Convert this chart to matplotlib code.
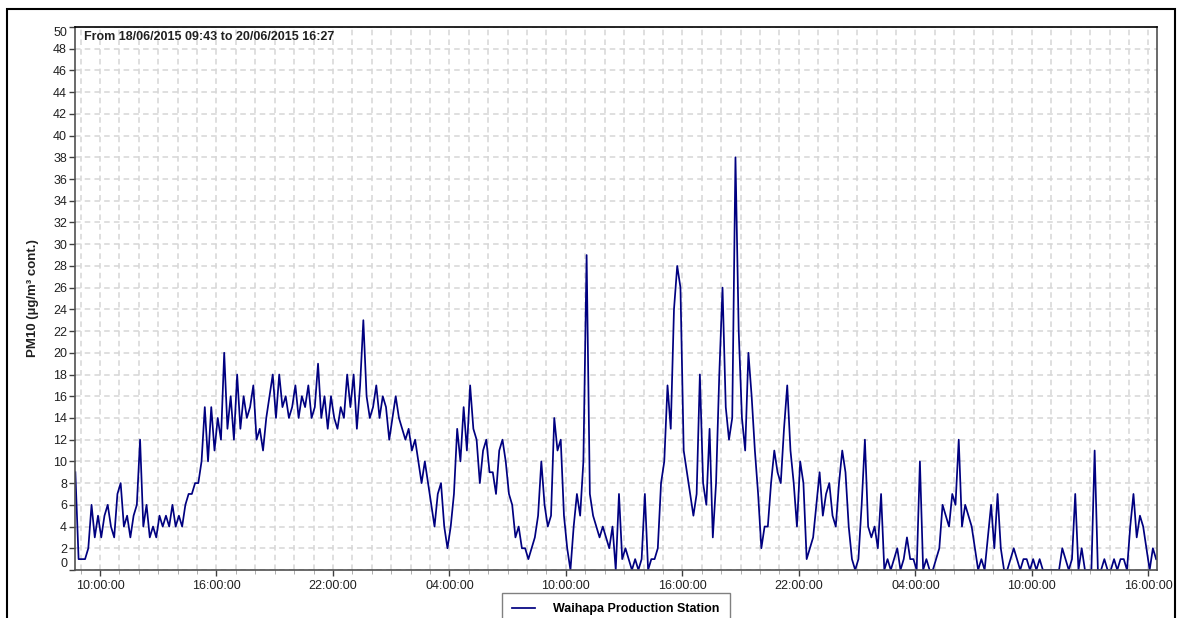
import matplotlib
matplotlib.use('Agg')
import matplotlib.pyplot as plt
import matplotlib.dates as mdates
from matplotlib.patches import Rectangle
import pandas as pd

plt.rcParams['font.family'] = ['Liberation Sans', 'DejaVu Sans']
plt.rcParams['lines.scale_dashes'] = False

title = 'From 18/06/2015 09:43 to 20/06/2015 16:27'
station = 'Waihapa Production Station'
y_label = 'PM10 (µg/m³ cont.)'

# 10-minute PM10 readings, split by calendar day
pm10_day1 = [9, 1, 1, 1, 2, 6, 3, 5, 3, 5, 6, 4, 3, 7, 8, 4, 5, 3, 5, 6,
             12, 4, 6, 3, 4, 3, 5, 4, 5, 4, 6, 4, 5, 4, 6, 7, 7, 8, 8, 10,
             15, 10, 15, 11, 14, 12, 20, 13, 16, 12, 18, 13, 16, 14, 15, 17, 12, 13, 11, 14,
             16, 18, 14, 18, 15, 16, 14, 15, 17, 14, 16, 15, 17, 14, 15, 19, 14, 16, 13, 16,
             14, 13, 15, 14, 18, 15, 18, 13, 17, 23, 16, 14]
pm10_day2 = [15, 17, 14, 16, 15, 12, 14, 16, 14, 13, 12, 13, 11, 12, 10, 8, 10, 8, 6, 4,
             7, 8, 4, 2, 4, 7, 13, 10, 15, 11, 17, 13, 12, 8, 11, 12, 9, 9, 7, 11,
             12, 10, 7, 6, 3, 4, 2, 2, 1, 2, 3, 5, 10, 6, 4, 5, 14, 11, 12, 5,
             2, 0, 4, 7, 5, 10, 29, 7, 5, 4, 3, 4, 3, 2, 4, 0, 7, 1, 2, 1,
             0, 1, 0, 1, 7, 0, 1, 1, 2, 8, 10, 17, 13, 24, 28, 26, 11, 9, 7, 5,
             7, 18, 8, 6, 13, 3, 8, 18, 26, 15, 12, 14, 38, 22, 14, 11, 20, 16, 11, 7,
             2, 4, 4, 8, 11, 9, 8, 13, 17, 11, 8, 4, 10, 8, 1, 2, 3, 6, 9, 5,
             7, 8, 5, 4]
pm10_day3 = [8, 11, 9, 4, 1, 0, 1, 6, 12, 4, 3, 4, 2, 7, 0, 1, 0, 1, 2, 0,
             1, 3, 1, 1, 0, 10, 0, 1, 0, 0, 1, 2, 6, 5, 4, 7, 6, 12, 4, 6,
             5, 4, 2, 0, 1, 0, 3, 6, 2, 7, 2, 0, 0, 1, 2, 1, 0, 1, 1, 0,
             1, 0, 1, 0, 0, 0, 0, 0, 0, 2, 1, 0, 1, 7, 0, 2, 0, 0, 0, 11,
             0, 0, 1, 0, 0, 1, 0, 1, 1, 0, 4, 7, 3, 5, 4, 2, 0, 2, 1]

pm10 = pm10_day1 + pm10_day2 + pm10_day3
times = pd.date_range('2015-06-18 08:44', periods=len(pm10), freq='10min')
t_end = pd.Timestamp('2015-06-20 16:27')

y_ticks = list(range(0, 51, 2))

fig = plt.figure(figsize=(11.83, 6.18), dpi=100)
ax = fig.add_axes([0.0637, 0.0777, 0.9144, 0.8786])

ax.plot(times, pm10, color='#000080', linewidth=1.25, label=station)

ax.set_xlim(times[0], t_end)
ax.set_ylim(0, 50)
ax.set_yticks(y_ticks)

ax.xaxis.set_major_locator(mdates.HourLocator(byhour=[4, 10, 16, 22]))
ax.xaxis.set_minor_locator(mdates.HourLocator())
ax.xaxis.set_major_formatter(mdates.DateFormatter('%H:%M:%S'))

grid_kw = dict(color='#d6d6d6', linewidth=1.1, linestyle=(0, (4, 3)))
ax.grid(True, which='both', axis='x', **grid_kw)
ax.grid(True, which='major', axis='y', **grid_kw)
ax.set_axisbelow(True)

ax.tick_params(axis='both', which='major', labelsize=9, colors='#404040',
               labelcolor='#202020', length=4, width=1)
ax.tick_params(axis='x', which='minor', length=3, color='#a0a0a0')
ax.tick_params(axis='x', which='major', pad=3)
ax.tick_params(axis='y', which='major', pad=2)

for side in ['left', 'bottom', 'right']:
    ax.spines[side].set_color('#505050')
    ax.spines[side].set_linewidth(1.2)
ax.spines['top'].set_color('black')
ax.spines['top'].set_linewidth(1.2)

# keep the end labels inside the plot height
ylabels = ax.get_yticklabels()
ylabels[0].set_verticalalignment('bottom')
ylabels[-1].set_verticalalignment('top')

ax.set_ylabel(y_label, fontsize=9.5, fontweight='bold', color='#202020')
ax.yaxis.set_label_coords(-0.034, 0.5)

ax.text(0.008, 0.982, title, transform=ax.transAxes, fontsize=9,
        fontweight='bold', va='center', ha='left', color='#202020')

ax.legend(loc='upper left', bbox_to_anchor=(502 / 1183, 1 - 593 / 618),
          bbox_transform=fig.transFigure, borderaxespad=0, frameon=True,
          fancybox=False, edgecolor='#808080', framealpha=1,
          prop={'weight': 'bold', 'size': 9}, handlelength=1.8,
          handletextpad=1.5, borderpad=0.8)

# outer border around the whole chart
fig.add_artist(Rectangle((7 / 1183, -0.05), (1175 - 7) / 1183, 1.05 - 9 / 618,
                         transform=fig.transFigure, fill=False,
                         edgecolor='black', linewidth=1.5))

fig.savefig('out.png', dpi=100)
